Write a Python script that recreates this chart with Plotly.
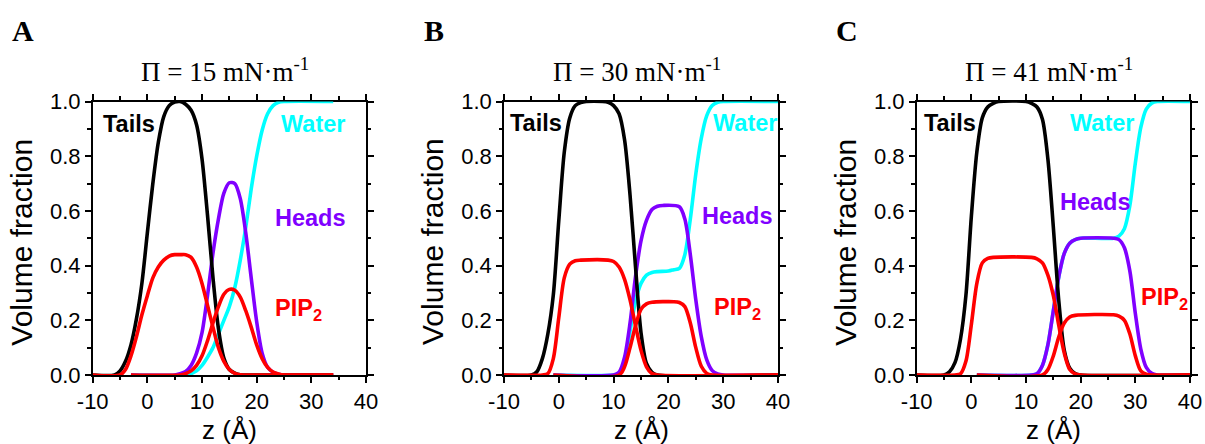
import plotly.graph_objects as go

# ---------------- data (z in Å, volume fraction) ----------------
PANELS = ["A", "B", "C"]
PRESSURES = ["15", "30", "41"]

# Panel A (Π = 15 mN/m)
A_tails_z = [-10, -6, -5, -4, -3, -2, -1, 0, 1, 2, 3, 4, 5, 6, 7, 8, 9, 10, 11, 12, 13, 14, 15, 16, 17, 20, 34]
A_tails = [0, 0, 0.015, 0.05, 0.11, 0.205, 0.335, 0.52, 0.70, 0.85, 0.945, 0.985, 0.998, 1.0, 0.99, 0.968, 0.915, 0.79, 0.585, 0.357, 0.17, 0.062, 0.02, 0.007, 0.001, 0, 0]
A_piptail_z = [-10, -5, -4, -3, -2, -1, 0, 1, 2, 3, 4, 5, 6, 7, 8, 9, 10, 11, 12, 13, 14, 15, 16, 17, 20, 34]
A_piptail = [0, 0, 0.02, 0.07, 0.14, 0.22, 0.29, 0.355, 0.395, 0.42, 0.435, 0.44, 0.44, 0.44, 0.43, 0.395, 0.335, 0.255, 0.175, 0.10, 0.05, 0.02, 0.006, 0.001, 0, 0]
A_heads_z = [-3, 5, 6, 7, 8, 9, 10, 11, 12, 13, 14, 15, 16, 17, 18, 19, 20, 21, 22, 23, 24, 25, 34]
A_heads = [0, 0, 0.005, 0.013, 0.035, 0.08, 0.155, 0.29, 0.445, 0.57, 0.665, 0.703, 0.70, 0.645, 0.52, 0.355, 0.195, 0.08, 0.028, 0.01, 0.003, 0, 0]
A_piphead_z = [-3, 6, 7, 8, 9, 10, 11, 12, 13, 14, 15, 16, 17, 18, 19, 20, 21, 22, 23, 24, 25, 34]
A_piphead = [0, 0, 0.005, 0.015, 0.035, 0.07, 0.125, 0.19, 0.25, 0.295, 0.313, 0.31, 0.285, 0.235, 0.175, 0.11, 0.06, 0.028, 0.011, 0.004, 0, 0]
A_water_z = [-3, 7, 8, 9, 10, 11, 12, 13, 14, 15, 16, 17, 18, 19, 20, 21, 22, 23, 24, 25, 34]
A_water = [0, 0, 0.005, 0.015, 0.035, 0.065, 0.10, 0.15, 0.20, 0.25, 0.32, 0.42, 0.54, 0.68, 0.80, 0.895, 0.955, 0.985, 0.997, 1.0, 1.0]

# Panel B (Π = 30 mN/m)
B_tails_z = [-10, -5, -4, -3, -2, -1, 0, 1, 2, 3, 4, 5, 8, 9, 10, 11, 12, 13, 14, 15, 16, 17, 18, 40]
B_tails = [0, 0, 0.012, 0.06, 0.15, 0.293, 0.565, 0.815, 0.94, 0.985, 0.996, 1.0, 1.0, 0.997, 0.985, 0.955, 0.86, 0.658, 0.395, 0.155, 0.042, 0.01, 0.0, 0]
B_piptail_z = [-10, -3, -2, -1, 0, 1, 2, 3, 4, 9, 10, 11, 12, 13, 14, 15, 16, 17, 18, 40]
B_piptail = [0, 0, 0.005, 0.06, 0.21, 0.355, 0.405, 0.418, 0.42, 0.42, 0.415, 0.395, 0.35, 0.275, 0.18, 0.09, 0.03, 0.005, 0, 0]
B_heads_z = [-1, 10, 11, 12, 13, 14, 15, 16, 17, 18, 19, 22, 23, 24, 25, 26, 27, 28, 29, 30, 40]
B_heads = [0, 0.0, 0.01, 0.065, 0.19, 0.36, 0.49, 0.565, 0.605, 0.617, 0.62, 0.615, 0.57, 0.44, 0.275, 0.14, 0.055, 0.016, 0.004, 0, 0]
B_piphead_z = [-1, 11, 12, 13, 14, 15, 16, 17, 21, 22, 23, 24, 25, 26, 27, 28, 40]
B_piphead = [0, 0, 0.03, 0.10, 0.18, 0.24, 0.26, 0.266, 0.268, 0.265, 0.25, 0.19, 0.10, 0.032, 0.006, 0, 0]
B_water_z = [-1, 10, 11, 12, 13, 14, 15, 16, 17, 18, 20, 21, 22, 23, 24, 25, 26, 27, 28, 29, 30, 40]
B_water = [0, 0, 0.005, 0.045, 0.16, 0.27, 0.335, 0.365, 0.375, 0.378, 0.38, 0.385, 0.39, 0.44, 0.57, 0.735, 0.865, 0.948, 0.985, 0.997, 1.0, 1.0]

# Panel C (Π = 41 mN/m)
C_tails_z = [-10, -5, -4, -3, -2, -1, 0, 1, 2, 3, 4, 5, 10, 11, 12, 13, 14, 15, 16, 17, 18, 19, 20, 40]
C_tails = [0, 0, 0.012, 0.045, 0.13, 0.29, 0.58, 0.815, 0.94, 0.98, 0.993, 1.0, 1.0, 0.993, 0.98, 0.935, 0.79, 0.54, 0.27, 0.09, 0.025, 0.005, 0, 0]
C_piptail_z = [-10, -3, -2, -1, 0, 1, 2, 3, 4, 11, 12, 13, 14, 15, 16, 17, 18, 19, 20, 40]
C_piptail = [0, 0, 0.004, 0.05, 0.185, 0.335, 0.41, 0.426, 0.43, 0.43, 0.425, 0.41, 0.365, 0.29, 0.18, 0.08, 0.02, 0.004, 0, 0]
C_heads_z = [1, 11, 12, 13, 14, 15, 16, 17, 18, 19, 20, 26, 27, 28, 29, 30, 31, 32, 33, 34, 40]
C_heads = [0, 0, 0.005, 0.035, 0.11, 0.235, 0.36, 0.445, 0.482, 0.495, 0.5, 0.5, 0.495, 0.465, 0.38, 0.225, 0.095, 0.028, 0.006, 0, 0]
C_piphead_z = [1, 13, 14, 15, 16, 17, 18, 19, 26, 27, 28, 29, 30, 31, 32, 33, 40]
C_piphead = [0, 0, 0.02, 0.07, 0.14, 0.19, 0.212, 0.218, 0.22, 0.215, 0.2, 0.15, 0.07, 0.015, 0.003, 0, 0]
C_water_z = [1, 11, 12, 13, 14, 15, 16, 17, 18, 19, 20, 26, 27, 28, 29, 30, 31, 32, 33, 34, 40]
C_water = [0, 0, 0.005, 0.035, 0.11, 0.235, 0.36, 0.445, 0.482, 0.495, 0.5, 0.5, 0.508, 0.535, 0.62, 0.775, 0.905, 0.972, 0.994, 1.0, 1.0]

X_TICKS = [-10, 0, 10, 20, 30, 40]
Y_TICKS = [0.0, 0.2, 0.4, 0.6, 0.8, 1.0]

# label positions (z, fraction) per panel: Tails, Water, Heads, PIP2
LABEL_POS = {
    "A": {"Tails": (-8.5, 0.918), "Water": (24.1, 0.918), "Heads": (22.9, 0.575), "PIP": (22.9, 0.24)},
    "B": {"Tails": (-9.2, 0.923), "Water": (27.8, 0.923), "Heads": (25.8, 0.58), "PIP": (27.9, 0.242)},
    "C": {"Tails": (-9.1, 0.92), "Water": (17.7, 0.92), "Heads": (15.9, 0.633), "PIP": (30.6, 0.281)},
}

DATA = {
    "A": [(A_water_z, A_water), (A_heads_z, A_heads), (A_tails_z, A_tails), (A_piptail_z, A_piptail), (A_piphead_z, A_piphead)],
    "B": [(B_water_z, B_water), (B_heads_z, B_heads), (B_tails_z, B_tails), (B_piptail_z, B_piptail), (B_piphead_z, B_piphead)],
    "C": [(C_water_z, C_water), (C_heads_z, C_heads), (C_tails_z, C_tails), (C_piptail_z, C_piptail), (C_piphead_z, C_piphead)],
}

CYAN = "#00FFFF"
PURPLE = "#8000FF"
BLACK = "#000000"
RED = "#FF0000"
COLORS = [CYAN, PURPLE, BLACK, RED, RED]

W, H = 1205, 444
X_DOM_PX = [(92.7, 366.0), (504.0, 778.0), (916.7, 1190.0)]
Y_TOP_PX, Y_BOT_PX = 101.5, 375.0
SANS = "Liberation Sans, Arial, sans-serif"
SERIF = "Liberation Serif, Times New Roman, serif"

fig = go.Figure()
annotations = []
layout_axes = {}

for i, p in enumerate(PANELS):
    suffix = "" if i == 0 else str(i + 1)
    xref, yref = "x" + suffix, "y" + suffix
    for (zz, vv), col in zip(DATA[p], COLORS):
        fig.add_trace(go.Scatter(x=zz, y=vv, mode="lines", xaxis=xref, yaxis=yref,
                                 line=dict(color=col, width=3.6, shape="spline", smoothing=0.8),
                                 showlegend=False, hoverinfo="skip"))
    x0, x1 = X_DOM_PX[i]
    dom_x = [x0 / W, x1 / W]
    dom_y = [1 - Y_BOT_PX / H, 1 - Y_TOP_PX / H]
    common = dict(showgrid=False, zeroline=False, showline=True, linecolor="black", linewidth=1.6,
                  mirror="ticks", ticks="outside", tickcolor="black", tickwidth=1.5, ticklen=6,
                  automargin=False,
                  tickfont=dict(family=SANS, size=22, color="black"), layer="below traces")
    layout_axes["xaxis" + suffix] = dict(common, domain=dom_x, anchor=yref, range=[-10, 40],
                                         tickmode="array", tickvals=X_TICKS, ticktext=[str(t) for t in X_TICKS],
                                         minor=dict(dtick=5, tick0=-10, ticks="outside", ticklen=3.5, tickwidth=1.5, tickcolor="black"))
    layout_axes["yaxis" + suffix] = dict(common, domain=dom_y, anchor=xref, range=[0, 1],
                                         tickmode="array", tickvals=Y_TICKS, ticktext=["%.1f" % t for t in Y_TICKS],
                                         minor=dict(dtick=0.1, tick0=0, ticks="outside", ticklen=3.5, tickwidth=1.5, tickcolor="black"))
    cx = (x0 + x1) / 2 / W
    # panel letter
    annotations.append(dict(text="<b>%s</b>" % p, x=(x0 - 70) / W, y=1 - 31 / H, xref="paper", yref="paper",
                            showarrow=False, font=dict(family=SERIF, size=30, color="black"),
                            xanchor="center", yanchor="middle"))
    # title
    annotations.append(dict(text="Π = %s mN·m<sup>-1</sup>" % PRESSURES[i], x=cx - 4 / W, y=1 - 70 / H,
                            xref="paper", yref="paper", showarrow=False,
                            font=dict(family=SERIF, size=27, color="black"), xanchor="center", yanchor="middle"))
    # axis titles
    annotations.append(dict(text="z (Å)", x=cx, y=1 - 430 / H, xref="paper", yref="paper", showarrow=False,
                            font=dict(family=SANS, size=26, color="black"), xanchor="center", yanchor="middle"))
    annotations.append(dict(text="Volume fraction", x=(x0 - 72) / W, y=1 - 242 / H, xref="paper", yref="paper",
                            showarrow=False, textangle=-90,
                            font=dict(family=SANS, size=30, color="black"), xanchor="center", yanchor="middle"))
    # curve labels
    lp = LABEL_POS[p]
    for key, txt, col in [("Tails", "Tails", BLACK), ("Water", "Water", CYAN),
                          ("Heads", "Heads", PURPLE), ("PIP", "PIP<sub>2</sub>", RED)]:
        zx, vy = lp[key]
        annotations.append(dict(text="<b>%s</b>" % txt, x=zx, y=vy, xref=xref, yref=yref, showarrow=False,
                                font=dict(family=SANS, size=23.5, color=col), xanchor="left", yanchor="middle"))

fig.update_layout(width=W, height=H, autosize=False, margin=dict(l=0, r=0, t=0, b=0),
                  paper_bgcolor="white", plot_bgcolor="white", annotations=annotations, **layout_axes)

fig.write_html("out.html", config={"displayModeBar": False},
               post_script="document.body.style.margin='0px';document.body.style.padding='0px';")
